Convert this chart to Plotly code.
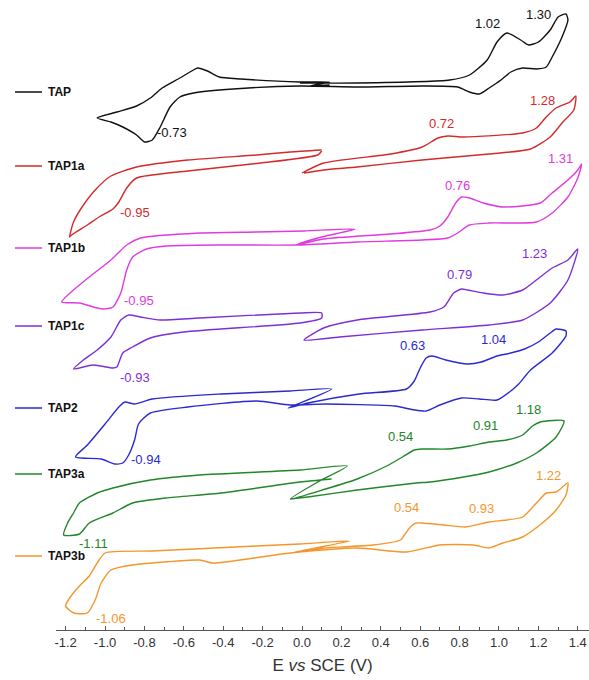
import plotly.graph_objects as go

# Cyclic voltammograms, potential E (V vs SCE) and current (arbitrary units,
# relative to each curve's own resting level). None separates scan segments.
names = ["TAP", "TAP1a", "TAP1b", "TAP1c", "TAP2", "TAP3a", "TAP3b"]
colors = ["#111111", "#d42a2a", "#e03ae0", "#7c2fd6", "#2a2ad0", "#22862a", "#f5962a"]
offsets = [545, 470, 395, 315, 235, 160, 85]

E_TAP = [-0.01, 0.28, 0.75, 0.85, 0.94, 0.99, 1.04, 1.11, 1.15, 1.20, 1.26, 1.30, 1.34, 1.35,
         1.32, 1.27, 1.24, 1.19, 1.12, 1.06, 1.01, 0.95, 0.90, 0.85, 0.79, 0.61, 0.28, -0.01,
         -0.35, -0.55, -0.62, -0.67, -0.72, -0.76, -0.80, -0.84, -0.91, -0.97, -1.04,
         -0.94, -0.84, -0.77, -0.71, -0.62, -0.56, -0.53, -0.48, -0.42, -0.31, -0.01, 0.14, 0.04, 0.14]
I_TAP = [2, 2, 5, 10, 25, 43, 52, 45, 40, 43, 55, 68, 71, 65,
         48, 28, 18, 16, 17, 13, 5, -3, -9, -7, -2, -1, -2, -1,
         -4, -8, -12, -22, -42, -55, -57, -50, -42, -37, -33,
         -27, -21, -13, -3, 7, 14, 17, 14, 8, 6, 3, 3, -1, 0]

E_TAP1a = [0.00, 0.11, 0.45, 0.61, 0.69, 0.74, 0.82, 1.12, 1.19, 1.24, 1.29, 1.36, 1.39,
           1.38, 1.32, 1.26, 1.16, 0.95, 0.61, 0.28, 0.11, 0.01, None,
           0.10, -0.06, -0.23, -0.58, -0.84, -0.97, -1.05, -1.12, -1.16, -1.18,
           -1.17, -1.09, -1.03, -0.96, -0.93, -0.89, -0.84, -0.58, -0.21, 0.08, 0.10]
I_TAP1a = [-13, -3, 6, 13, 22, 24, 23, 27, 32, 43, 52, 58, 64,
           50, 37, 23, 11, 6, 0, -7, -10, -13, None,
           10, 8, 5, 0, -7, -16, -30, -48, -62, -77,
           -75, -65, -57, -49, -42, -28, -18, -11, -3, 5, 9]

E_TAP1b = [-0.03, 0.11, 0.45, 0.65, 0.70, 0.74, 0.78, 0.81, 0.85, 0.92, 1.02, 1.21, 1.27, 1.35,
           1.40, 1.42, 1.40, 1.35, 1.27, 1.19, 0.95, 0.85, 0.79, 0.74, 0.61, 0.28, -0.03,
           -0.41, -0.69, -0.79, -0.86, -0.89, -0.92, -0.96, -1.01, -1.04, -1.13, -1.22,
           -1.16, -1.08, -0.97, -0.89, -0.82, -0.52, -0.23, 0.01, 0.27, 0.08, -0.03]
I_TAP1b = [-10, -4, 1, 5, 9, 18, 32, 38, 37, 32, 28, 32, 42, 55,
           65, 71, 57, 38, 22, 13, 12, 10, 2, -3, -5, -7, -10,
           -10, -11, -14, -22, -35, -58, -72, -74, -73, -68, -67,
           -55, -42, -25, -10, -3, 2, 3, 4, 6, -3, -10]

E_TAP1c = [0.01, 0.11, 0.28, 0.65, 0.72, 0.77, 0.81, 0.84, 0.92, 1.02, 1.12, 1.19, 1.27, 1.35,
           1.40, 1.35, 1.26, 1.12, 0.95, 0.61, 0.19, 0.01, None,
           0.10, -0.01, -0.52, -0.72, -0.82, -0.88, -0.92, -0.97, -1.04, -1.11, -1.16,
           -1.06, -0.96, -0.94, -0.91, -0.86, -0.77, -0.60, -0.01, 0.10, 0.10]
I_TAP1c = [-25, -13, -5, 3, 8, 22, 26, 25, 22, 20, 25, 35, 47, 55,
           66, 35, 12, -5, -10, -15, -22, -25, None,
           2, 2, -3, -5, -2, 0, -5, -22, -35, -45, -54,
           -50, -53, -52, -38, -32, -23, -17, -8, -3, 2]

E_TAP2 = [-0.07, 0.03, 0.29, 0.53, 0.57, 0.60, 0.63, 0.66, 0.73, 0.84, 0.91, 0.99, 1.06, 1.13,
          1.20, 1.26, 1.29, 1.34, 1.34, 1.27, 1.16, 1.10, 1.06, 0.99, 0.90, 0.81, 0.70, 0.63,
          0.57, 0.47, 0.12, -0.06, -0.23, -0.58, -0.77, -0.83, -0.85, -0.88, -0.91, -0.95,
          -1.02, -1.15, -1.09, -1.00, -0.93, -0.90, -0.85, -0.76, -0.41, -0.06, 0.15, -0.07]
I_TAP2 = [-13, -8, 1, 6, 14, 27, 37, 39, 35, 31, 33, 39, 42, 46,
          53, 62, 66, 64, 59, 42, 25, 11, 4, -5, -4, -3, -10, -16,
          -15, -11, -9, -10, -6, -12, -18, -29, -45, -60, -68, -69,
          -64, -62, -50, -29, -12, -7, -9, -4, 1, 4, 6, -13]

E_TAP3a = [0.15, -0.01, -0.41, -0.69, -0.86, -0.96, -1.08, -1.13, -1.21, -1.19, -1.16, -1.13,
           -1.04, -0.96, -0.77, -0.52, -0.01, 0.23, 0.08, -0.06, 0.12, 0.28, 0.43, 0.51, 0.57,
           0.61, 0.74, 0.85, 0.95, 1.04, 1.12, 1.17, 1.21, 1.33, 1.29, 1.19, 1.09, 0.95, 0.82,
           0.65, 0.58, 0.28, 0.03, -0.06]
I_TAP3a = [-9, -12, -23, -28, -33, -43, -53, -64, -65, -53, -43, -33,
           -23, -18, -10, -5, 0, 4, -12, -29, -19, -9, 4, 13, 20,
           21, 21, 24, 28, 30, 35, 44, 48, 49, 33, 17, 7, -2, -7,
           -12, -13, -20, -27, -29]

E_TAP3b = [-0.06, 0.11, 0.36, 0.50, 0.52, 0.55, 0.58, 0.61, 0.72, 0.83, 0.95, 1.04, 1.12, 1.19,
           1.24, 1.29, 1.35, 1.34, 1.29, 1.22, 1.12, 1.02, 0.95, 0.87, 0.70, 0.53, 0.28, -0.06,
           -0.45, -0.52, -0.86, -0.97, -1.02, -1.05, -1.09, -1.16, -1.20, -1.18, -1.13, -1.08,
           -1.04, -1.00, -0.76, -0.23, -0.01, 0.24, -0.06]
I_TAP3b = [-8, -3, 0, 5, 10, 18, 22, 22, 20, 18, 23, 25, 28, 42,
           52, 53, 62, 50, 35, 22, 8, 2, -3, 0, 0, -7, -3, -8,
           -18, -15, -20, -25, -38, -55, -68, -68, -61, -53, -41, -31,
           -18, -8, -6, -1, 1, 4, -8]

E_data = [E_TAP, E_TAP1a, E_TAP1b, E_TAP1c, E_TAP2, E_TAP3a, E_TAP3b]
I_data = [I_TAP, I_TAP1a, I_TAP1b, I_TAP1c, I_TAP2, I_TAP3a, I_TAP3b]

# Peak potentials (V) written next to each voltammogram
peak_values = [
    [-0.73, 1.02, 1.30],
    [0.72, 1.28, -0.95],
    [0.76, 1.31, -0.95],
    [0.79, 1.23, -0.93],
    [0.63, 1.04, -0.94],
    [0.54, 0.91, 1.18, -1.11],
    [0.54, 0.93, 1.22, -1.06],
]
# where each peak label sits: (E, current relative to the curve)
peak_label_pos = [
    [(-0.66, -47), (0.94, 62), (1.20, 71)],
    [(0.71, 37), (1.22, 60), (-0.85, -52)],
    [(0.79, 50), (1.31, 77), (-0.83, -65)],
    [(0.80, 41), (1.18, 62), (-0.85, -62)],
    [(0.56, 50), (0.97, 56), (-0.79, -64)],
    [(0.50, 34), (0.93, 45), (1.15, 61), (-1.06, -73)],
    [(0.53, 38), (0.91, 37), (1.25, 70), (-0.97, -73)],
]
legend_dy = [-7, -6, -13, -11, -13, -4, -11]

fig = go.Figure()
annotations = []
shapes = []

PLOT_LEFT = 56
PLOT_WIDTH = 589 - PLOT_LEFT
FONT = "Liberation Sans, Arial"

for k, name in enumerate(names):
    y = [None if v is None else offsets[k] + v for v in I_data[k]]
    fig.add_trace(go.Scatter(
        x=E_data[k], y=y, mode="lines", name=name,
        line=dict(color=colors[k], width=1.4, shape="spline", smoothing=0.6),
        connectgaps=False, showlegend=False, hoverinfo="skip",
    ))
    for val, (ex, iy) in zip(peak_values[k], peak_label_pos[k]):
        annotations.append(dict(
            x=ex, y=offsets[k] + iy, xref="x", yref="y",
            text=f"{val:.2f}", showarrow=False,
            font=dict(family=FONT, size=13, color=colors[k]),
            xanchor="center", yanchor="middle",
        ))
    # legend key: short line plus bold name, left of the plot
    ly = offsets[k] + legend_dy[k]
    shapes.append(dict(
        type="line", xref="paper", yref="y",
        x0=(15 - PLOT_LEFT) / PLOT_WIDTH, x1=(42 - PLOT_LEFT) / PLOT_WIDTH,
        y0=ly, y1=ly, line=dict(color=colors[k], width=1.5),
    ))
    annotations.append(dict(
        x=(46 - PLOT_LEFT) / PLOT_WIDTH, y=ly, xref="paper", yref="y",
        text=f"<b>{name}</b>", showarrow=False, xanchor="left", yanchor="middle",
        font=dict(family=FONT, size=12, color="#111111"),
    ))

fig.update_layout(
    width=589, height=680,
    margin=dict(l=PLOT_LEFT, r=0, t=0, b=50),
    paper_bgcolor="white", plot_bgcolor="white",
    annotations=annotations, shapes=shapes,
    xaxis=dict(
        range=[-1.249, 1.457],
        tickmode="array",
        tickvals=[-1.2, -1.0, -0.8, -0.6, -0.4, -0.2, 0.0, 0.2, 0.4, 0.6, 0.8, 1.0, 1.2, 1.4],
        ticktext=["-1.2", "-1.0", "-0.8", "-0.6", "-0.4", "-0.2", "0.0",
                  "0.2", "0.4", "0.6", "0.8", "1.0", "1.2", "1.4"],
        ticks="inside", ticklen=4, tickcolor="#555555", tickwidth=1,
        minor=dict(tickvals=[-1.1, -0.9, -0.7, -0.5, -0.3, -0.1, 0.1, 0.3, 0.5, 0.7, 0.9, 1.1, 1.3],
                   ticks="inside", ticklen=3, tickcolor="#555555"),
        showline=True, linecolor="#555555", linewidth=1,
        showgrid=False, zeroline=False,
        tickfont=dict(family=FONT, size=13, color="#333333"),
        title=dict(text="E <i>vs</i> SCE (V)", standoff=10,
                   font=dict(family=FONT, size=17, color="#333333")),
    ),
    yaxis=dict(range=[0, 630], visible=False, fixedrange=True),
)

fig.write_html("out.html")
